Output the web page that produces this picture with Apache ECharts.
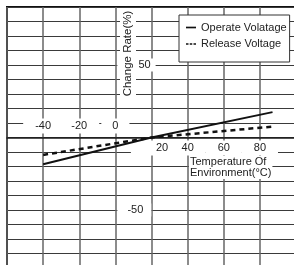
<!DOCTYPE html>
<html>
<head>
<meta charset="utf-8">
<script src="https://cdn.jsdelivr.net/npm/echarts@6/dist/echarts.min.js"></script>
<style>
  html, body { margin: 0; padding: 0; background: #fff; }
  #chart { width: 294px; height: 265px; }
</style>
</head>
<body>
<div id="chart"></div>
<script>
var temps = [-40, 20, 87]
var operateRate = [-18.5, 0, 17.5]
var releaseRate = [-12, 0, 7.5]
var upperTickLabels = [-40, -20, 0]
var lowerTickLabels = [20, 40, 60, 80]
var yTickLabels = [50, -50]
var seriesNames = ['Operate Volatage', 'Release Voltage']
var xTitle = 'Temperature Of\nEnvironment(°C)'
var yTitle = 'Change Rate(%)'

var font = '"Liberation Sans", Arial, sans-serif'
var ink = '#222'

// plot box: x -60..100, y -90..90 (right and bottom run past the page)
var gLeft = 7, gTop = 7, gWidth = 289, gHeight = 261
var xMin = -60, xMax = 100, yMin = -90, yMax = 90
// label axes sit on the zero lines, moved there with offset
var zeroY = gTop + gHeight * yMax / (yMax - yMin)
var zeroX = gLeft + gWidth * (0 - xMin) / (xMax - xMin)
var xOffset = zeroY - (gTop + gHeight)
var yOffset = gLeft - zeroX

function pairs(ys) {
    return temps.map(function (t, i) { return [t, ys[i]] })
}

function lbl(pad) {
    return { fontSize: 11, fontFamily: font, color: ink, backgroundColor: '#fff', padding: pad }
}

var chart = echarts.init(document.getElementById('chart'))

chart.setOption({
    backgroundColor: '#fff',
    animation: false,
    grid: {
        left: gLeft, top: gTop, width: gWidth, height: gHeight,
        show: true, borderColor: '#111', borderWidth: 2,
        outerBoundsMode: 'none'
    },
    xAxis: [{
        type: 'value', min: xMin, max: xMax, interval: 20,
        position: 'bottom', offset: xOffset,
        axisLine: { onZero: false, lineStyle: { color: '#1a1a1a', width: 1.5 } },
        axisTick: { show: false },
        splitLine: { show: true, lineStyle: { color: '#666', width: 1.5 } },
        axisLabel: {
            margin: 3,
            formatter: function (v) {
                if (v === 20) return '{f|' + v + '}'
                return lowerTickLabels.indexOf(v) >= 0 ? '{l|' + v + '}' : ''
            },
            rich: { l: lbl([2, 12, 2, 12]), f: lbl([2, 4, 2, 25]) }
        }
    }, {
        type: 'value', min: xMin, max: xMax, interval: 20,
        position: 'bottom', offset: xOffset,
        axisLine: { show: false, onZero: false },
        axisTick: { show: false },
        splitLine: { show: false },
        axisLabel: {
            inside: true, margin: 4,
            formatter: function (v) {
                if (v === 0) return '{z|0}'
                return upperTickLabels.indexOf(v) >= 0 ? '{u|' + v + '}' : ''
            },
            rich: { u: lbl([2, 12, 2, 12]), z: lbl([2, 11, 2, 11]) }
        }
    }],
    yAxis: [{
        // grid lines only
        type: 'value', min: yMin, max: yMax, interval: 10,
        position: 'left',
        axisLine: { show: false, onZero: false },
        axisTick: { show: false },
        axisLabel: { show: false },
        splitLine: { show: true, lineStyle: { color: '#3a3a3a', width: 1 } }
    }, {
        // labels at x = 0
        type: 'value', min: yMin, max: yMax, interval: 10,
        position: 'left', offset: yOffset,
        axisLine: { show: false, onZero: false },
        axisTick: { show: false },
        splitLine: { show: false },
        axisLabel: {
            inside: true, margin: 2,
            formatter: function (v) {
                if (yTickLabels.indexOf(v) < 0) return ''
                return v > 0 ? '{p|' + v + '}' : '{n|' + v + '}'
            },
            rich: { p: lbl([1, 5, 1, 21]), n: lbl([1, 8, 1, 10]) }
        }
    }],
    legend: {
        orient: 'vertical', left: 179, top: 15,
        itemWidth: 10, itemHeight: 2, itemGap: 2.5,
        padding: [5.5, 3, 11, 7],
        backgroundColor: '#fff', borderColor: '#333', borderWidth: 1,
        textStyle: { fontSize: 11, fontFamily: font, color: ink, lineHeight: 14 },
        data: [
            { name: seriesNames[0], icon: 'path://M0,0h12v2h-12z' },
            { name: seriesNames[1], icon: 'path://M0,0h3v2h-3zM4.5,0h3v2h-3zM9,0h3v2h-3z' }
        ]
    },
    graphic: [{
        type: 'text', x: 128, y: 53.5, rotation: Math.PI / 2, z: 10,
        style: {
            text: yTitle, font: '11.5px ' + font, fill: ink,
            align: 'center', verticalAlign: 'middle',
            backgroundColor: '#fff', padding: [2, 2]
        }
    }, {
        type: 'text', x: 189, y: 156, z: 10,
        style: {
            text: xTitle, font: '11px ' + font, fill: ink, lineHeight: 11.5,
            backgroundColor: '#fff', padding: [0, 1]
        }
    }],
    series: [{
        type: 'line', name: seriesNames[0], data: pairs(operateRate),
        symbol: 'none', z: 3,
        itemStyle: { color: '#111' },
        lineStyle: { color: '#111', width: 2 }
    }, {
        type: 'line', name: seriesNames[1], data: pairs(releaseRate),
        symbol: 'none', z: 3,
        itemStyle: { color: '#111' },
        lineStyle: { color: '#111', width: 2.5, type: [5, 4] }
    }]
})
</script>
</body>
</html>
